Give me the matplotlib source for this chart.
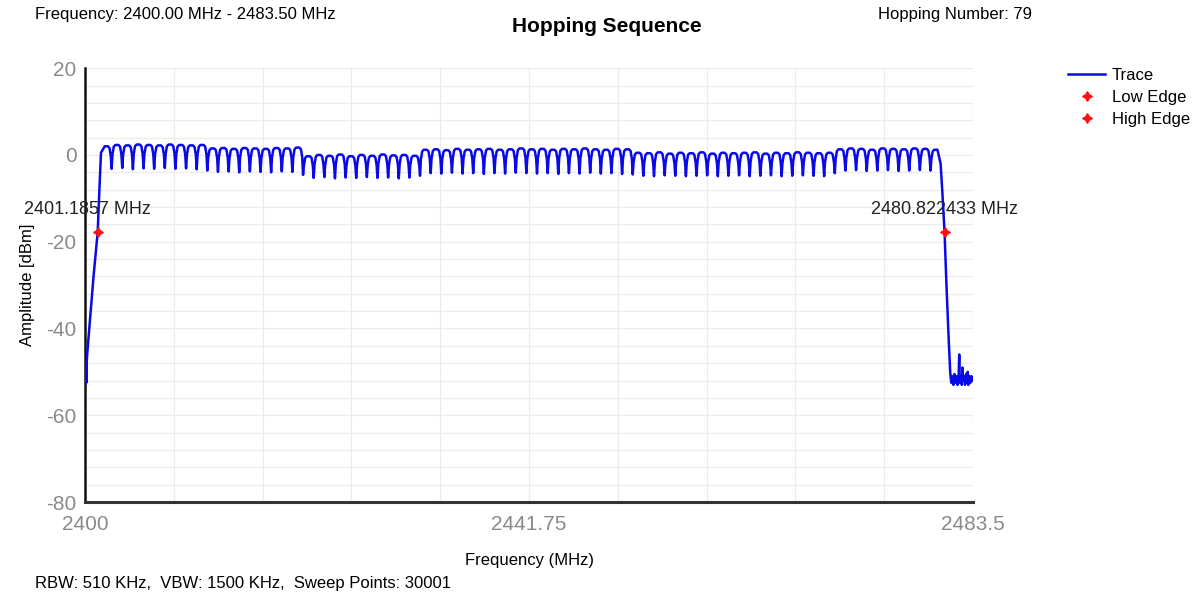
# Hopping Sequence - wykres widma (79 kanałów)
import numpy as np
import matplotlib.pyplot as plt
from matplotlib.ticker import FixedLocator

plt.rcParams['font.family'] = ['Liberation Sans', 'DejaVu Sans']
plt.rcParams['axes.unicode_minus'] = False

# Dane
channels_mhz = list(range(2402, 2481))  # 79 kanałów

peak_db = [2.0, 2.3, 2.2, 2.4, 2.3, 2.2, 2.4, 2.3, 2.2, 2.3,
           1.5, 1.6, 1.4, 1.6, 1.5, 1.4, 1.6, 1.5, 1.7,
           -0.3, 0.0, -0.2, 0.1, -0.3, 0.0, -0.2, 0.1, -0.1, 0.0, -0.2,
           1.2, 1.3, 1.1, 1.4, 1.2, 1.3, 1.4, 1.2, 1.3, 1.5,
           1.3, 1.4, 1.2, 1.4, 1.3, 1.5, 1.3, 1.2, 1.4, 1.3,
           0.5, 0.4, 0.6, 0.3, 0.5, 0.4, 0.6, 0.3, 0.5, 0.4,
           0.5, 0.6, 0.3, 0.5, 0.4, 0.6, 0.5, 0.4, 0.5,
           1.3, 1.5, 1.4, 1.2, 1.5, 1.4, 1.3, 1.5, 1.4, 1.2]

dip_db = [-3.2, -3.0, -3.3, -3.1, -3.2, -3.0, -3.2, -3.1, -3.3, -3.6,
          -3.9, -3.8, -4.0, -3.8, -3.9, -4.0, -3.8, -3.9, -4.6,
          -5.3, -5.1, -5.4, -5.2, -5.3, -5.1, -5.3, -5.2, -5.4, -5.2, -4.8,
          -4.2, -4.3, -4.1, -4.3, -4.2, -4.4, -4.2, -4.3, -4.1, -4.2,
          -4.3, -4.2, -4.4, -4.2, -4.3, -4.1, -4.3, -4.2, -4.4, -4.5,
          -4.8, -4.9, -4.7, -4.8, -4.9, -4.8, -4.7, -4.9, -4.8, -4.7,
          -4.9, -4.8, -4.7, -4.9, -4.8, -4.7, -4.8, -4.9, -4.2,
          -3.6, -3.5, -3.7, -3.6, -3.5, -3.7, -3.6, -3.5, -3.6]

left_edge_mhz = [2400.0, 2400.04, 2400.08, 2400.12, 2400.16, 2400.2, 2400.4,
                 2400.8, 2401.19, 2401.35, 2401.5]
left_edge_db = [-51.0, -53.0, -48.0, -52.5, -47.5, -46.0, -40.0,
                -28.0, -17.8, -8.0, 0.5]

right_edge_mhz = [2480.45, 2480.6, 2480.82, 2481.0, 2481.2, 2481.35, 2481.45,
                  2481.55, 2481.65, 2481.75, 2481.85, 2481.95, 2482.05, 2482.15,
                  2482.2, 2482.25, 2482.35, 2482.45, 2482.5, 2482.55, 2482.65,
                  2482.75, 2482.85, 2482.95, 2483.0, 2483.05, 2483.15, 2483.25,
                  2483.35, 2483.5]
right_edge_db = [-2.0, -8.0, -17.8, -30.0, -42.0, -50.0, -52.5,
                 -51.0, -53.0, -50.5, -52.5, -51.0, -53.0, -50.5,
                 -46.0, -52.5, -51.0, -53.0, -49.0, -52.0, -51.0,
                 -53.0, -50.5, -52.5, -50.0, -53.0, -51.0, -52.5,
                 -51.0, -52.0]

edge_mhz = [2401.1857, 2480.822433]
edge_db = [-17.8, -17.8]
edge_labels = ['2401.1857 MHz', '2480.822433 MHz']

x_ticks = [2400, 2441.75, 2483.5]
x_tick_labels = ['2400', '2441.75', '2483.5']
y_ticks = [-80, -60, -40, -20, 0, 20]

# Składanie przebiegu: zbocze lewe, kanały, zbocze prawe
freq = list(left_edge_mhz)
amp = list(left_edge_db)
for i, c in enumerate(channels_mhz):
    p = peak_db[i]
    if i > 0:
        freq += [c - 0.5, c - 0.42, c - 0.3]
        amp += [dip_db[i - 1], p - 2.2, p - 0.4]
    freq += [c - 0.15, c + 0.15]
    amp += [p, p]
    if i < len(channels_mhz) - 1:
        freq += [c + 0.3, c + 0.42]
        amp += [p - 0.4, p - 2.2]
freq += right_edge_mhz
amp += right_edge_db

# Wykres
fig = plt.figure(figsize=(12.01, 5.98), dpi=100)
ax = fig.add_axes([0.0708, 0.1605, 0.7394, 0.7255])

ax.plot(freq, amp, color='#0a0ae6', linewidth=1.8, label='Trace', zorder=3)
ax.plot(edge_mhz[0], edge_db[0], linestyle='none', marker=(4, 1, 0),
        markersize=7, color='#ff1010', label='Low Edge', zorder=4)
ax.plot(edge_mhz[1], edge_db[1], linestyle='none', marker=(4, 1, 0),
        markersize=7, color='#ff1010', label='High Edge', zorder=4)

for xm, ym, txt, dx in zip(edge_mhz, edge_db, edge_labels, [-7, 0]):
    ax.annotate(txt, (xm, ym), xytext=(dx, 16), textcoords='offset points',
                ha='center', va='center', fontsize=13, color='#222222', zorder=5)

ax.set_xlim(2400, 2483.5)
ax.set_ylim(-80, 20)
ax.set_xticks(x_ticks)
ax.set_xticklabels(x_tick_labels)
ax.set_yticks(y_ticks)
ax.xaxis.set_minor_locator(FixedLocator(np.linspace(2400, 2483.5, 11)))
ax.yaxis.set_minor_locator(FixedLocator(np.arange(-80, 21, 4)))
ax.tick_params(which='both', length=0)
ax.tick_params(axis='x', labelsize=15, labelcolor='#8a8a8a', pad=9)
ax.tick_params(axis='y', labelsize=15, labelcolor='#8a8a8a', pad=6)
ax.grid(True, which='both', color='#ececec', linewidth=0.9)
ax.set_axisbelow(True)

for s in ['top', 'right']:
    ax.spines[s].set_visible(False)
ax.spines['left'].set_linewidth(1.8)
ax.spines['left'].set_color('#111111')
ax.spines['bottom'].set_linewidth(2.2)
ax.spines['bottom'].set_color('#333333')

ax.set_xlabel('Frequency (MHz)', fontsize=12, labelpad=14)
ax.set_ylabel('Amplitude [dBm]', fontsize=12, labelpad=8)

fig.text(0.029, 0.975, 'Frequency: 2400.00 MHz - 2483.50 MHz', fontsize=12, va='center')
fig.text(0.731, 0.975, 'Hopping Number: 79', fontsize=12, va='center')
fig.text(0.505, 0.956, 'Hopping Sequence', fontsize=15, fontweight='bold',
         ha='center', va='center')
fig.text(0.029, 0.024, 'RBW: 510 KHz,  VBW: 1500 KHz,  Sweep Points: 30001',
         fontsize=12, va='center')

ax.legend(loc='upper left', bbox_to_anchor=(0.884, 0.898), bbox_transform=fig.transFigure,
          frameon=False, fontsize=12, handlelength=2.2, handletextpad=0.4,
          labelspacing=0.42, borderaxespad=0)

plt.savefig('out.png', dpi=100)
